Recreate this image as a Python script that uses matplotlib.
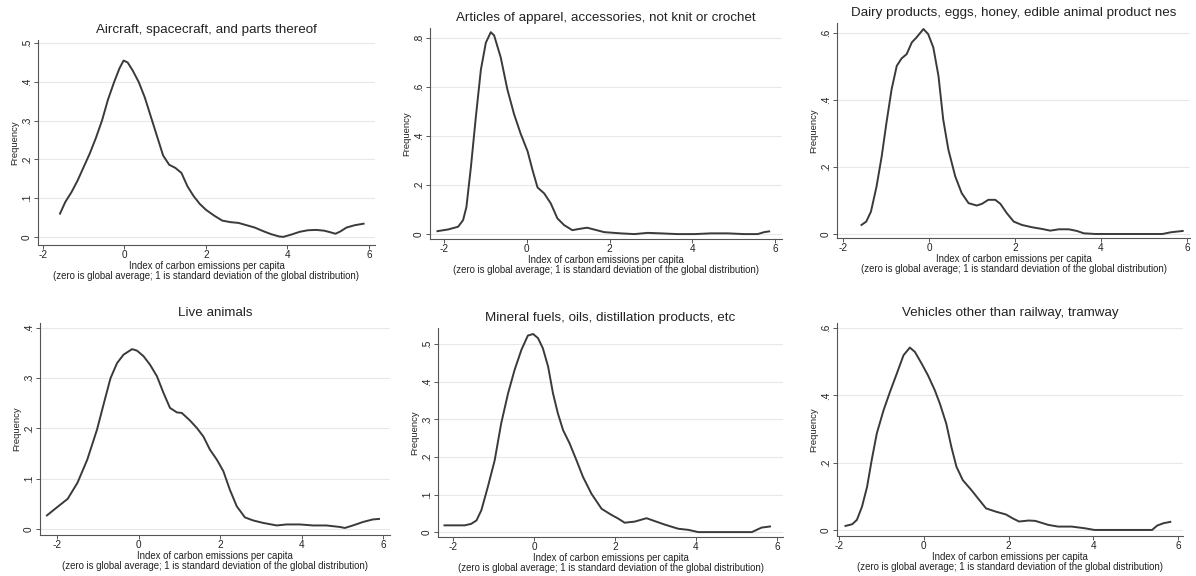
import matplotlib
matplotlib.use("Agg")
import matplotlib.pyplot as plt
from matplotlib.ticker import FuncFormatter

plt.rcParams['font.family'] = ['Liberation Sans', 'DejaVu Sans']

W, H = 1196, 576

titles = [
    "Aircraft, spacecraft, and parts thereof",
    "Articles of apparel, accessories, not knit or crochet",
    "Dairy products, eggs, honey, edible animal product nes",
    "Live animals",
    "Mineral fuels, oils, distillation products, etc",
    "Vehicles other than railway, tramway",
]

aircraft_x = [-1.58, -1.45, -1.3, -1.15, -1.0, -0.85, -0.7, -0.55, -0.4, -0.25, -0.12, -0.02,
              0.08, 0.2, 0.35, 0.5, 0.65, 0.8, 0.95, 1.1, 1.25, 1.4, 1.55, 1.7, 1.85, 2.0,
              2.2, 2.4, 2.6, 2.8, 3.0, 3.2, 3.4, 3.6, 3.8, 3.9, 4.1, 4.3, 4.5, 4.7, 4.9,
              5.05, 5.18, 5.3, 5.45, 5.65, 5.87]
aircraft_y = [0.060, 0.090, 0.115, 0.145, 0.180, 0.215, 0.255, 0.300, 0.355, 0.400, 0.435, 0.455,
              0.450, 0.430, 0.400, 0.360, 0.310, 0.260, 0.210, 0.186, 0.178, 0.165, 0.130, 0.105,
              0.085, 0.070, 0.055, 0.042, 0.038, 0.036, 0.030, 0.024, 0.015, 0.007, 0.001, 0.0,
              0.006, 0.013, 0.017, 0.018, 0.016, 0.012, 0.008, 0.014, 0.024, 0.030, 0.034]

apparel_x = [-2.16, -1.9, -1.66, -1.54, -1.46, -1.35, -1.23, -1.11, -0.99, -0.87, -0.79, -0.63,
             -0.47, -0.31, -0.15, 0.02, 0.14, 0.26, 0.42, 0.58, 0.74, 0.9, 1.1, 1.3, 1.46,
             1.62, 1.87, 2.27, 2.6, 2.92, 3.24, 3.65, 4.05, 4.45, 4.86, 5.26, 5.58, 5.74, 5.86]
apparel_y = [0.012, 0.019, 0.030, 0.057, 0.110, 0.275, 0.480, 0.670, 0.780, 0.823, 0.810, 0.720,
             0.590, 0.490, 0.410, 0.337, 0.260, 0.190, 0.166, 0.125, 0.064, 0.037, 0.016, 0.022,
             0.026, 0.019, 0.008, 0.003, 0.0, 0.005, 0.003, 0.0, 0.0, 0.003, 0.003, 0.0, 0.0,
             0.008, 0.011]

dairy_x = [-1.57, -1.46, -1.35, -1.22, -1.1, -0.99, -0.87, -0.75, -0.64, -0.52, -0.4, -0.29,
           -0.13, -0.02, 0.1, 0.22, 0.33, 0.45, 0.61, 0.76, 0.92, 1.11, 1.23, 1.38, 1.54, 1.66,
           1.81, 1.97, 2.16, 2.4, 2.63, 2.82, 3.02, 3.25, 3.44, 3.6, 3.87, 4.65, 5.43, 5.62, 5.9]
dairy_y = [0.027, 0.037, 0.067, 0.142, 0.232, 0.332, 0.432, 0.502, 0.524, 0.537, 0.572, 0.587,
           0.612, 0.597, 0.557, 0.472, 0.342, 0.252, 0.172, 0.122, 0.092, 0.085, 0.090, 0.102,
           0.102, 0.090, 0.062, 0.037, 0.027, 0.020, 0.015, 0.010, 0.014, 0.014, 0.009, 0.002,
           0.0, 0.0, 0.0, 0.005, 0.009]

animals_x = [-2.25, -2.02, -1.74, -1.5, -1.26, -1.02, -0.85, -0.69, -0.53, -0.37, -0.16, -0.04,
             0.12, 0.28, 0.45, 0.61, 0.77, 0.94, 1.06, 1.26, 1.43, 1.59, 1.75, 1.92, 2.08, 2.24,
             2.41, 2.61, 2.81, 3.06, 3.39, 3.63, 3.96, 4.28, 4.61, 4.94, 5.06, 5.26, 5.51, 5.75, 5.9]
animals_y = [0.027, 0.042, 0.060, 0.092, 0.138, 0.198, 0.251, 0.300, 0.330, 0.347, 0.358, 0.355,
             0.344, 0.327, 0.304, 0.271, 0.241, 0.232, 0.231, 0.216, 0.201, 0.184, 0.158, 0.138,
             0.115, 0.078, 0.045, 0.023, 0.017, 0.012, 0.007, 0.009, 0.009, 0.007, 0.007, 0.004,
             0.002, 0.007, 0.014, 0.019, 0.020]

fuels_x = [-2.21, -1.96, -1.71, -1.55, -1.42, -1.3, -1.14, -0.97, -0.81, -0.64, -0.48, -0.31,
           -0.15, -0.02, 0.1, 0.22, 0.35, 0.47, 0.59, 0.72, 0.88, 1.05, 1.21, 1.42, 1.67, 1.91,
           2.08, 2.24, 2.49, 2.78, 2.99, 3.23, 3.56, 3.81, 4.06, 4.8, 5.38, 5.62, 5.83]
fuels_y = [0.018, 0.018, 0.018, 0.022, 0.031, 0.058, 0.120, 0.191, 0.289, 0.369, 0.431, 0.485,
           0.523, 0.527, 0.516, 0.489, 0.440, 0.369, 0.316, 0.271, 0.236, 0.191, 0.147, 0.102,
           0.062, 0.046, 0.036, 0.025, 0.028, 0.037, 0.029, 0.020, 0.009, 0.006, 0.0, 0.0, 0.0,
           0.012, 0.015]

vehicles_x = [-1.85, -1.69, -1.58, -1.46, -1.34, -1.23, -1.11, -0.95, -0.8, -0.64, -0.48, -0.33,
              -0.21, -0.05, 0.1, 0.26, 0.38, 0.53, 0.65, 0.77, 0.92, 1.12, 1.31, 1.47, 1.71, 1.94,
              2.09, 2.25, 2.48, 2.63, 2.94, 3.17, 3.49, 3.8, 4.03, 4.81, 5.39, 5.51, 5.66, 5.82]
vehicles_y = [0.012, 0.017, 0.030, 0.069, 0.128, 0.208, 0.287, 0.356, 0.410, 0.464, 0.519, 0.542,
              0.529, 0.494, 0.459, 0.415, 0.375, 0.316, 0.247, 0.188, 0.148, 0.119, 0.089, 0.064,
              0.054, 0.046, 0.035, 0.025, 0.028, 0.027, 0.015, 0.010, 0.010, 0.005, 0.0, 0.0, 0.0,
              0.013, 0.020, 0.024]

curves = [(aircraft_x, aircraft_y), (apparel_x, apparel_y), (dairy_x, dairy_y),
          (animals_x, animals_y), (fuels_x, fuels_y), (vehicles_x, vehicles_y)]

x_ticks = [-2, 0, 2, 4, 6]
y_ticks = [
    [0, 0.1, 0.2, 0.3, 0.4, 0.5],
    [0, 0.2, 0.4, 0.6, 0.8],
    [0, 0.2, 0.4, 0.6],
    [0, 0.1, 0.2, 0.3, 0.4],
    [0, 0.1, 0.2, 0.3, 0.4, 0.5],
    [0, 0.2, 0.4, 0.6],
]

# plot regions in pixels: left, top, right, bottom  and axis limits
boxes = [(38, 40, 375, 245), (430, 28, 782, 239), (837, 23, 1190, 238),
         (40, 323, 390, 535), (438, 328, 783, 537), (837, 323, 1183, 536)]
xlims = [(-2.12, 6.15), (-2.34, 6.17), (-2.14, 6.07),
         (-2.42, 6.17), (-2.37, 6.15), (-2.05, 6.12)]
ylims = [(-0.021, 0.508), (-0.02, 0.84), (-0.012, 0.63),
         (-0.012, 0.41), (-0.013, 0.543), (-0.018, 0.615)]


def stata_num(v, pos=None):
    if v == 0:
        return "0"
    return ("%g" % v).lstrip("0")


fig = plt.figure(figsize=(W / 100, H / 100), dpi=100)
fig.patch.set_facecolor("white")

for i, (xs, ys) in enumerate(curves):
    l, t, r, b = boxes[i]
    ax = fig.add_axes([l / W, 1 - b / H, (r - l) / W, (b - t) / H])
    ax.plot(xs, ys, color="#3a3a3a", lw=1.4, solid_joinstyle="round")
    ax.set_xlim(*xlims[i])
    ax.set_ylim(*ylims[i])
    ax.set_xticks(x_ticks)
    ax.set_yticks(y_ticks[i])
    ax.xaxis.set_major_formatter(FuncFormatter(stata_num))
    ax.yaxis.set_major_formatter(FuncFormatter(stata_num))
    ax.grid(axis="y", color="#e8e8e8", lw=0.8)
    ax.set_axisbelow(True)
    for side in ("top", "right"):
        ax.spines[side].set_visible(False)
    for side in ("left", "bottom"):
        ax.spines[side].set_color("#555555")
        ax.spines[side].set_linewidth(0.8)
    ax.tick_params(axis="both", direction="out", length=3, width=0.7,
                   color="#555555", labelsize=7.2, labelcolor="#222222", pad=0.8)
    ax.tick_params(axis="y", labelrotation=90, pad=1.5)
    for lab in ax.get_yticklabels():
        lab.set_va("center")
    ax.set_title(titles[i], fontsize=9.6, color="#222222", pad=5)
    ax.set_ylabel("Frequency", fontsize=6.8, color="#222222", labelpad=2)
    ax.set_xlabel("Index of carbon emissions per capita\n"
                  "(zero is global average; 1 is standard deviation of the global distribution)",
                  fontsize=6.9, color="#222222", labelpad=0.5, linespacing=0.95)

fig.savefig("out.png", dpi=100, facecolor="white")
